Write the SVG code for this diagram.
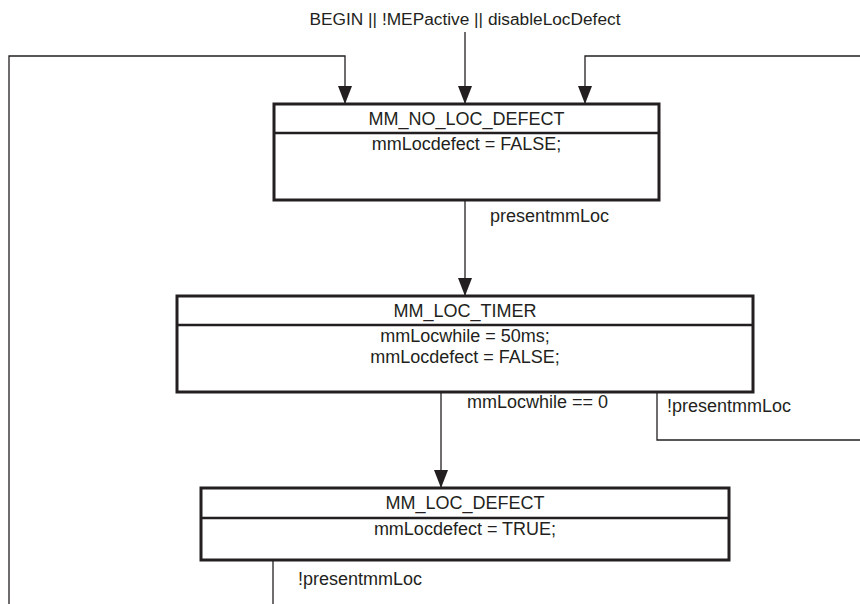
<svg xmlns="http://www.w3.org/2000/svg" width="860" height="604" viewBox="0 0 860 604">
<style>
.box{fill:#fff;stroke:#231f20;stroke-width:3}
.div{stroke:#231f20;stroke-width:2.5}
.ln{fill:none;stroke:#231f20;stroke-width:1.3}
text{font-family:"Liberation Sans",Arial,sans-serif;font-size:18px;fill:#231f20}
.c{text-anchor:middle}
</style>
<defs>
<marker id="ah" markerWidth="18" markerHeight="14" refX="18" refY="7" orient="auto" markerUnits="userSpaceOnUse" viewBox="0 0 18 14">
<path d="M0,0 L18,7 L0,14 Z" fill="#231f20"/>
</marker>
</defs>
<text class="c" x="465" y="25" style="font-size:17.3px">BEGIN || !MEPactive || disableLocDefect</text>
<g id="connectors">
<path class="ln" d="M465,32 V104" marker-end="url(#ah)"/>
<path class="ln" d="M9,604 V56 H345 V104" marker-end="url(#ah)"/>
<path class="ln" d="M860,56 H585 V104" marker-end="url(#ah)"/>
<path class="ln" d="M465,200 V296" marker-end="url(#ah)"/>
<path class="ln" d="M441,392 V488" marker-end="url(#ah)"/>
<path class="ln" d="M657,392 V440 H860"/>
<path class="ln" d="M273,560 V604"/>
<text x="490" y="222">presentmmLoc</text>
<text x="467" y="408">mmLocwhile == 0</text>
<text x="667" y="412">!presentmmLoc</text>
<text x="298" y="585">!presentmmLoc</text>
</g>
<g id="MM_NO_LOC_DEFECT">
<rect class="box" x="274" y="104" width="385" height="96"/>
<line class="div" x1="274" y1="133" x2="659" y2="133"/>
<text class="c" x="466.5" y="125">MM_NO_LOC_DEFECT</text>
<text class="c" x="466.5" y="150">mmLocdefect = FALSE;</text>
</g>
<g id="MM_LOC_TIMER">
<rect class="box" x="177" y="296" width="576" height="96"/>
<line class="div" x1="177" y1="325" x2="753" y2="325"/>
<text class="c" x="465" y="317">MM_LOC_TIMER</text>
<text class="c" x="465" y="342">mmLocwhile = 50ms;</text>
<text class="c" x="465" y="363">mmLocdefect = FALSE;</text>
</g>
<g id="MM_LOC_DEFECT">
<rect class="box" x="201" y="488" width="528" height="72"/>
<line class="div" x1="201" y1="518" x2="729" y2="518"/>
<text class="c" x="465" y="509">MM_LOC_DEFECT</text>
<text class="c" x="465" y="535">mmLocdefect = TRUE;</text>
</g>
</svg>
